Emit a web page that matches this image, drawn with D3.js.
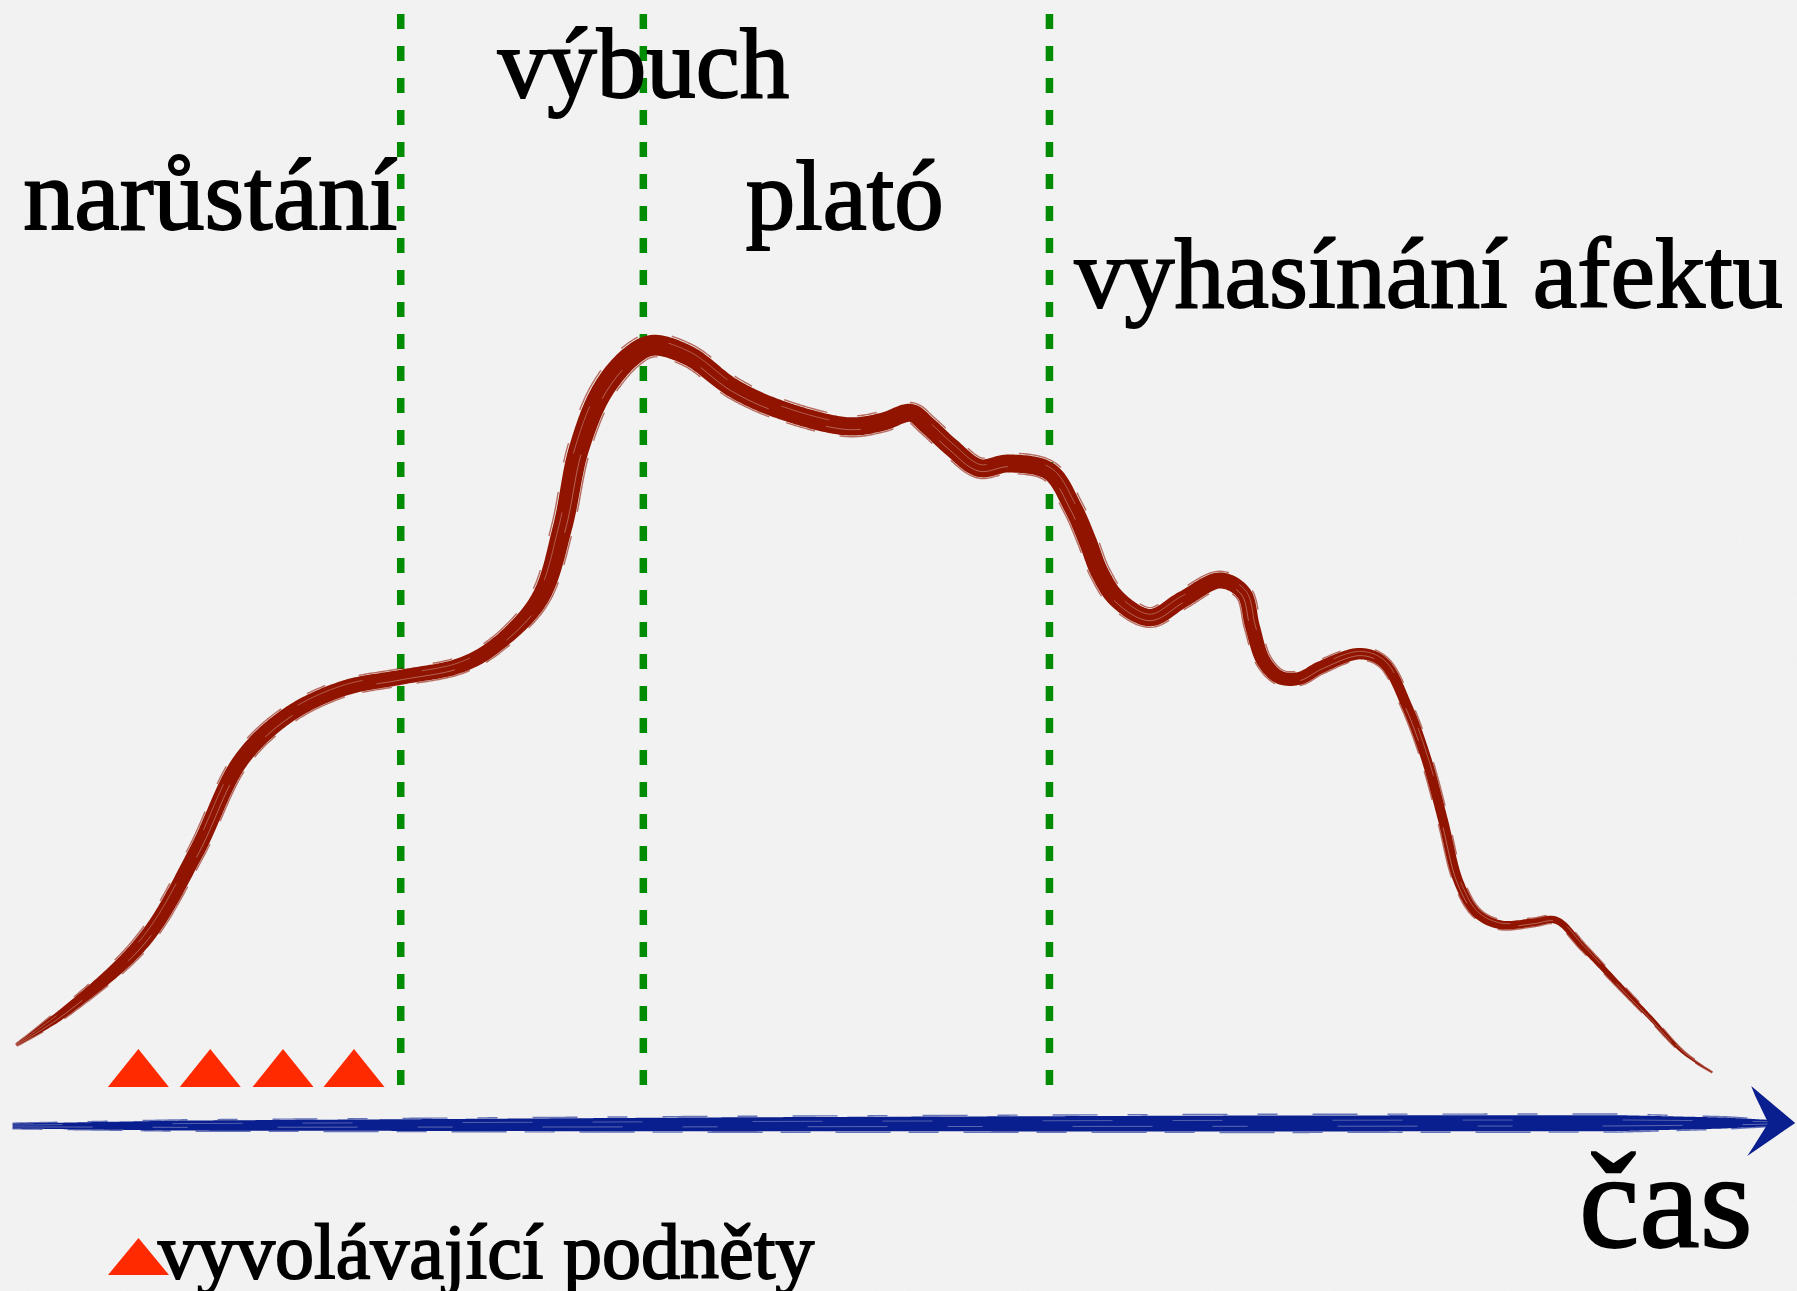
<!DOCTYPE html>
<html>
<head>
<meta charset="utf-8">
<script src="https://cdn.jsdelivr.net/npm/d3@7"></script>
<style>
  html, body { margin: 0; padding: 0; background: #f4f4f4; }
  svg { display: block; }
  text { font-family: "Liberation Serif", "DejaVu Serif", serif; fill: #000; stroke: #000; stroke-width: 1.8px; }
</style>
</head>
<body>
<svg id="chart" width="1797" height="1291"></svg>
<script>
// průběh afektu: čas (0-100) a intenzita (0-100)
let casy = [0.9, 3.8, 8.0, 10.9, 13.4, 16.0, 19.1, 22.3, 25.5, 27.4, 30.0, 31.3, 32.2, 33.5, 35.1, 36.3, 38.3, 40.8, 43.4, 47.2,
  49.1, 50.7, 51.6, 52.9, 54.5, 56.1, 58.4, 59.7, 60.5, 61.2, 62.2, 64.0, 65.8, 67.9, 69.2, 69.7, 70.3, 71.2, 72.3, 73.5,
  75.7, 77.0, 78.3, 79.4, 80.3, 81.2, 82.2, 83.5, 85.3, 86.6, 88.1, 90.0, 91.8, 93.7, 95.3];
let intenzita = [7.1, 10.3, 16.4, 24.2, 32.4, 36.4, 38.8, 39.8, 40.8, 42.4, 46.7, 53.1, 60.0, 65.2, 68.3, 69.3, 68.4, 65.5, 63.6, 62.1,
  62.5, 63.3, 62.2, 60.3, 58.4, 58.8, 58.1, 54.9, 52.0, 49.1, 46.7, 45.1, 46.7, 48.4, 47.3, 44.3, 41.3, 39.8, 39.7, 40.7,
  41.9, 41.1, 37.2, 32.4, 27.1, 21.5, 18.8, 17.8, 18.0, 18.2, 15.8, 12.6, 9.6, 6.4, 4.7];

// hranice fází (čas)
let hranice = [22.3, 35.8, 58.4];
let fazeNazvy = ['narůstání', 'výbuch', 'plató', 'vyhasínání afektu'];

// vyvolávající podněty (čas)
let podnety = [7.7, 11.7, 15.75, 19.7];

let osaNazev = 'čas';
let legendaText = 'vyvolávající podněty';

const W = 1797, H = 1291;
const bg = '#f4f4f4';
const red = '#911400';
const blue = '#0a1f8f';
const green = '#008c00';
const orange = '#ff2a00';

let svg = d3.select('#chart');

let x = d3.scaleLinear().domain([0, 100]).range([0, W]);
let y = d3.scaleLinear().domain([0, 100]).range([1125, 0]);

// papir
let defs = svg.append('defs');
let f = defs.append('filter').attr('id', 'paper').attr('x', 0).attr('y', 0).attr('width', '100%').attr('height', '100%');
f.append('feTurbulence').attr('type', 'fractalNoise').attr('baseFrequency', 0.9).attr('numOctaves', 2).attr('seed', 3);
f.append('feColorMatrix').attr('type', 'matrix')
  .attr('values', '0 0 0 0 0.5  0 0 0 0 0.5  0 0 0 0 0.5  0 0 0 -1.2 1.1');

svg.append('rect').attr('width', W).attr('height', H).attr('fill', bg);
svg.append('rect').attr('width', W).attr('height', H).attr('filter', 'url(#paper)').attr('opacity', 0.07);

// stetec: vyplneny pruh s promennou sirkou + roztrepene okraje
function brush(g, pts, widthAt, color) {
  let tmp = g.append('path')
    .attr('d', d3.line().curve(d3.curveCatmullRom.alpha(0.5))(pts))
    .attr('fill', 'none');
  let node = tmp.node(), len = node.getTotalLength();
  let n = Math.ceil(len / 2);
  let s = d3.range(n + 1).map(i => node.getPointAtLength(len * i / n));
  tmp.remove();

  let normals = s.map((p, i) => {
    let a = s[Math.max(0, i - 2)], b = s[Math.min(n, i + 2)];
    let dx = b.x - a.x, dy = b.y - a.y, l = Math.hypot(dx, dy) || 1;
    return [-dy / l, dx / l];
  });
  let side = k => s.map((p, i) => {
    let w = widthAt(p.x) / 2;
    return [p.x + normals[i][0] * w * k, p.y + normals[i][1] * w * k];
  });

  let left = side(1), right = side(-1).reverse();
  g.append('path').attr('d', d3.line()(left.concat(right)) + 'Z').attr('fill', color);

  // roztrepene okraje a svetle chlupy
  [[1.12, '30 25 55 18', 1.4, color, 0.6], [-1.15, '45 30 20 35', 1.4, color, 0.6],
   [0.35, '80 60 35 90', 0.9, bg, 0.4], [-0.4, '50 110 70 60', 0.9, bg, 0.35]].forEach(o => {
    g.append('path').attr('d', d3.line()(side(o[0])))
      .attr('fill', 'none').attr('stroke', o[3]).attr('stroke-width', o[2])
      .attr('stroke-opacity', o[4]).attr('stroke-dasharray', o[1]);
  });
}

// hranice fazi
svg.append('g').selectAll('line')
  .data(hranice)
  .enter()
  .append('line')
  .attr('x1', d => x(d)).attr('x2', d => x(d))
  .attr('y1', 14).attr('y2', 1086)
  .attr('stroke', green)
  .attr('stroke-width', 7.5)
  .attr('stroke-dasharray', '15 17');

// krivka afektu
let redW = d3.scaleLinear()
  .domain([0.9, 3, 8, 15, 22, 28, 31, 34, 40, 50, 58, 62, 68, 72, 78, 83, 88, 92, 95.3].map(x))
  .range([2.2, 9, 15, 16, 15, 15, 19, 22, 19, 18, 18, 18, 16, 13, 10.5, 9, 6.5, 4.5, 1.5])
  .clamp(true);
brush(svg.append('g'), casy.map((c, i) => [x(c), y(intenzita[i])]), redW, red);

// osa casu
let blueW = d3.scaleLinear()
  .domain([0.7, 10, 40, 70, 90, 96, 98.6].map(x))
  .range([5, 10, 14, 16, 16, 11, 6])
  .clamp(true);
let ga = svg.append('g');
brush(ga, [[x(0.7), y(0) + 1], [x(50), y(0) - 1], [x(98.4), y(0) - 2]], blueW, blue);
let tip = [x(99.9), y(0) - 2];
ga.append('path')
  .attr('d', 'M' + tip + 'L' + [tip[0] - 44, tip[1] - 37] + 'L' + [tip[0] - 40, tip[1] - 27] +
    'L' + [tip[0] - 27, tip[1]] + 'L' + [tip[0] - 42, tip[1] + 24] + 'L' + [tip[0] - 48, tip[1] + 33] + 'Z')
  .attr('fill', blue);

// podnety
let tri = d3.line();
svg.append('g').selectAll('path')
  .data(podnety)
  .enter()
  .append('path')
  .attr('d', d => tri([[x(d) - 30.5, 1087], [x(d), 1049], [x(d) + 30.5, 1087]]) + 'Z')
  .attr('fill', orange);

// popisky fazi
let fazeX = [x(1.3), x(27.7), x(41.5), x(59.8)];
let fazeY = [229, 97, 229, 307];
let fazeSize = [102, 99, 99, 100];
svg.append('g').selectAll('text')
  .data(fazeNazvy)
  .enter()
  .append('text')
  .attr('x', (d, i) => fazeX[i])
  .attr('y', (d, i) => fazeY[i])
  .style('font-size', (d, i) => fazeSize[i] + 'px')
  .text(d => d);

svg.append('text')
  .attr('x', 1579).attr('y', 1247)
  .style('font-size', '136px')
  .text(osaNazev);

// legenda
svg.append('path')
  .attr('d', tri([[108, 1275], [138.5, 1238], [169, 1275]]) + 'Z')
  .attr('fill', orange);
svg.append('text')
  .attr('x', 158).attr('y', 1278)
  .style('font-size', '78px')
  .text(legendaText);
</script>
</body>
</html>
